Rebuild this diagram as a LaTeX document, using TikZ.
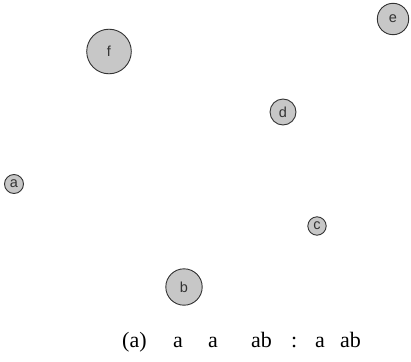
\documentclass[tikz,border=0pt]{standalone}
\usepackage{fontspec}
\setmainfont{Liberation Serif}
\newfontfamily\labelfont{Liberation Sans}
\begin{document}
\begin{tikzpicture}[x=1pt,y=-1pt,
  vtx/.style={circle,draw=black!80,line width=0.9pt,fill=black!22,inner sep=0pt,
    minimum size=#1,font=\labelfont\fontsize{14.5}{14.5}\selectfont,text=black!80},
  captext/.style={anchor=base west,inner sep=0pt,font=\fontsize{22}{22}\selectfont}]
\useasboundingbox (0,0) rectangle (411,361);
\node[vtx=44.6pt] (f) at (109,51.5) {f};
\node[vtx=31.4pt] (e) at (393,19) {e};
\node[vtx=26pt] (d) at (283,112) {d};
\node[vtx=19pt] (a) at (14,184) {a};
\node[vtx=18.4pt] (c) at (317,226) {c};
\node[vtx=36.4pt] (b) at (184,287) {b};
\node[captext] (t1) at (122,347) {(a)};
\node[captext] (t2) at (173,347) {a};
\node[captext] (t3) at (208,347) {a};
\node[captext] (t4) at (251,347) {ab};
\node[captext] (t5) at (291,347) {:};
\node[captext] (t6) at (315,347) {a};
\node[captext] (t7) at (340,347) {ab};
\end{tikzpicture}
\end{document}
